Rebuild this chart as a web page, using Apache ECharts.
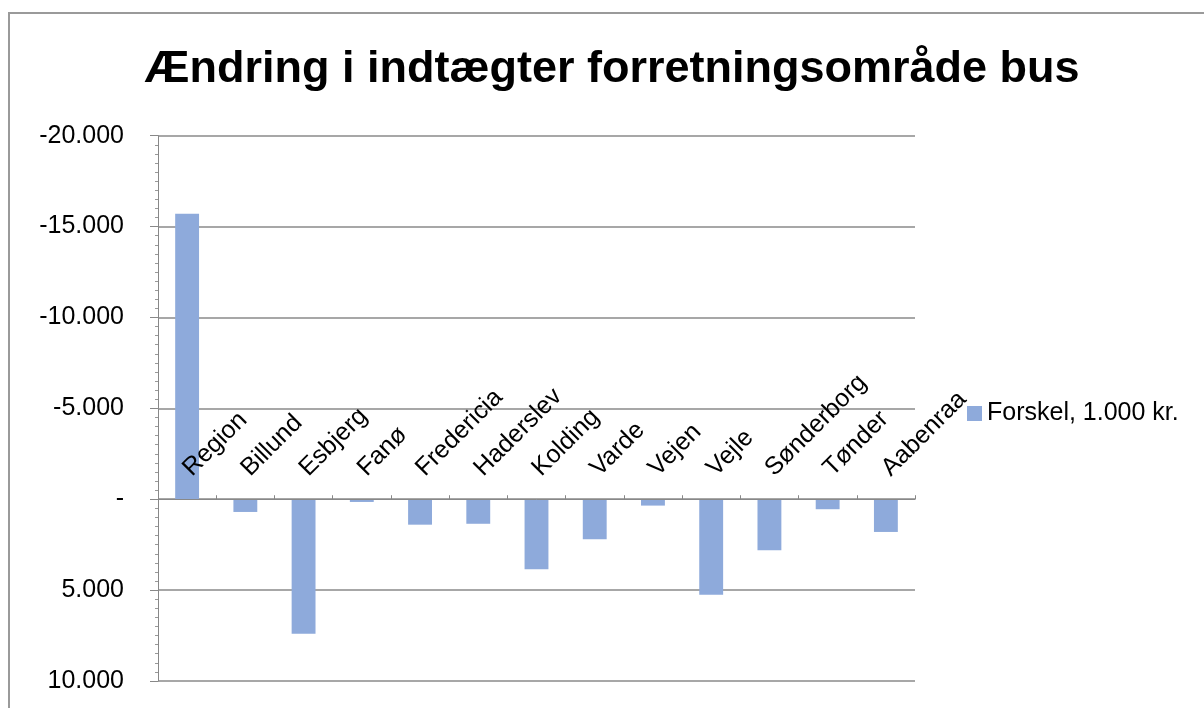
<!DOCTYPE html>
<html>
<head>
<meta charset="utf-8">
<script src="https://cdn.jsdelivr.net/npm/echarts@6/dist/echarts.min.js"></script>
<style>
html,body{margin:0;padding:0;background:#fff;}
#chart{width:1204px;height:708px;}
</style>
</head>
<body>
<div id="chart"></div>
<script>
const titleText = 'Ændring i indtægter forretningsområde bus';
const seriesName = 'Forskel, 1.000 kr.';
const categories = ['Region','Billund','Esbjerg','Fanø','Fredericia','Haderslev','Kolding','Varde','Vejen','Vejle','Sønderborg','Tønder','Aabenraa'];
const values = [-15700, 700, 7400, 150, 1400, 1350, 3850, 2200, 350, 5250, 2800, 550, 1800];
const yMin = -20000, yMax = 10000, yInterval = 5000;

const FONT = '"Liberation Sans", Arial, sans-serif';

function fmt(v) {
  if (v === 0) return '-';
  const s = Math.abs(v).toString().replace(/\B(?=(\d{3})+(?!\d))/g, '.');
  return (v < 0 ? '-' : '') + s;
}

// grid geometry
const W = 1204, H = 708;
const gridLeft = 158, gridRight = 289, gridTop = 135.7, gridBottom = 27;
const gridH = H - gridTop - gridBottom;
// put the category axis on the zero line (value axis is inverted: min at top)
const zeroOffset = -gridH * (0 - yMin) / (yMax - yMin);

const chart = echarts.init(document.getElementById('chart'), null, {renderer: 'canvas'});
chart.setOption({
  animation: false,
  backgroundColor: '#fff',
  graphic: [
    {type: 'rect', shape: {x: 9, y: 13, width: 1300, height: 800},
     style: {fill: 'none', stroke: '#9a9a9a', lineWidth: 2}, silent: true},
    {type: 'text', x: 612, y: 70,
     style: {text: titleText, font: 'bold 45px ' + FONT, fill: '#000',
             textAlign: 'center', textVerticalAlign: 'middle'}}
  ],
  grid: {left: gridLeft, right: gridRight, top: gridTop, bottom: gridBottom},
  legend: {
    show: true, left: 962, top: 396, itemWidth: 15, itemHeight: 15,
    icon: 'rect',
    textStyle: {fontFamily: FONT, fontSize: 25, color: '#000'},
    data: [seriesName]
  },
  xAxis: {
    type: 'category', data: categories, position: 'top', offset: zeroOffset, z: 5,
    axisLine: {onZero: false, lineStyle: {color: '#888', width: 1}},
    axisTick: {show: true, length: 4, inside: false, lineStyle: {color: '#888'}},
    axisLabel: {rotate: -45, margin: 27, fontFamily: FONT, fontSize: 25, color: '#000', interval: 0},
    splitLine: {show: false}
  },
  yAxis: {
    type: 'value', inverse: true, min: yMin, max: yMax, interval: yInterval,
    axisLine: {show: true, lineStyle: {color: '#888'}},
    axisTick: {show: true, length: 8, lineStyle: {color: '#888'}},
    minorTick: {show: true, splitNumber: 10, length: 3, lineStyle: {color: '#999'}},
    axisLabel: {formatter: fmt, margin: 34, fontFamily: FONT, fontSize: 25, color: '#000'},
    splitLine: {show: true, lineStyle: {color: '#8a8a8a', width: 1.5}}
  },
  series: [{
    name: seriesName, type: 'bar', data: values, barWidth: '41%', z: 2,
    itemStyle: {color: '#8EAADB'}
  }]
});
</script>
</body>
</html>
